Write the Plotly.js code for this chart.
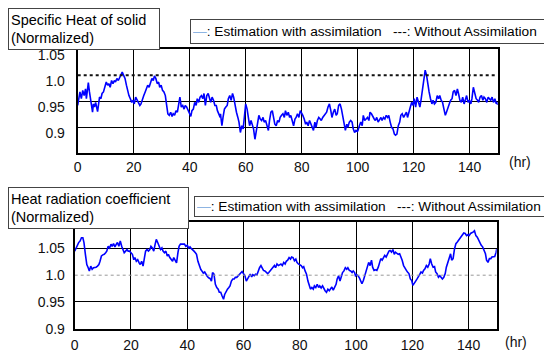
<!DOCTYPE html>
<html><head><meta charset="utf-8">
<script src="https://cdn.plot.ly/plotly-3.0.1.min.js"></script>
<style>html,body{margin:0;padding:0;background:#fff}#chart{width:544px;height:352px}</style>
</head><body><div id="chart"></div>
<script>
// ---- data (hours, normalized values) ----
const hoursSolid = [
0,0.5,0.8,1.3,1.8,2.3,2.8,3.1,3.5,3.8,4.2,4.6,4.9,5.3,5.6,6.0,6.4,6.7,7.1,7.4,
7.8,8.3,8.7,9.2,9.7,10.2,10.7,11.1,11.6,12.1,12.6,13.1,13.5,14.0,14.5,15.0,15.5,15.9,16.4,16.9,
17.4,17.9,18.3,18.8,19.3,19.8,20.2,20.7,21.2,21.7,22.2,22.6,23.1,23.6,24.1,24.6,25.0,25.5,26.0,26.5,
27.0,27.4,27.9,28.4,28.9,29.3,29.8,30.3,30.8,31.3,31.7,32.2,32.7,33.2,33.7,34.1,34.6,35.1,35.6,36.0,
36.5,37.0,37.5,38.0,38.4,38.9,39.4,39.9,40.4,40.8,41.3,41.8,42.3,42.7,43.2,43.7,44.2,44.7,45.1,45.6,
46.1,46.6,47.1,47.5,48.0,48.5,49.0,49.5,49.9,50.4,50.9,
51.0,51.5,51.9,52.4,52.9,53.4,53.8,54.3,54.8,55.3,55.7,56.2,56.7,57.2,57.6,58.1,58.6,59.1,59.5,60.0,
60.5,60.9,61.4,61.9,62.4,62.8,63.3,63.8,64.3,64.7,65.2,65.7,66.2,66.6,67.1,67.6,68.1,68.5,69.0,69.5,
70.0,70.4,70.9,71.4,71.9,72.3,72.8,73.3,73.8,74.2,74.7,75.2,75.7,76.1,76.6,77.1,77.6,78.0,78.5,79.0,
79.5,79.9,80.4,80.9,81.4,81.8,82.3,82.8,83.3,83.7,84.2,84.7,85.1,85.6,86.1,86.6,87.0,87.5,88.0,88.5,
88.9,89.4,89.9,90.4,90.8,91.3,91.8,92.3,92.7,93.2,93.7,94.2,94.6,95.1,95.6,96.1,96.5,97.0,97.5,98.0,
98.4,98.9,99.4,99.9,
100.1,100.6,101.1,101.6,102.0,102.5,103.0,103.5,104.0,104.4,104.9,105.4,105.9,106.3,106.8,107.3,107.8,108.3,108.7,109.2,
109.7,110.2,110.7,111.1,111.6,112.1,112.6,113.1,113.5,114.0,114.5,115.0,115.4,115.9,116.4,116.9,117.4,117.8,118.3,118.8,
119.3,119.8,120.2,120.7,121.2,121.7,122.2,122.6,123.1,123.6,124.1,124.6,125.0,125.5,126.0,126.5,126.9,127.4,127.9,128.4,
128.9,129.3,129.8,130.3,130.8,131.3,131.7,132.2,132.7,133.2,133.7,134.1,134.6,135.1,135.6,136.0,136.5,137.0,137.5,138.0,
138.4,138.9,139.4,139.9,140.4,140.8,141.3,141.8,142.3,142.8,143.2,143.7,144.2,144.7,145.1,145.6,146.1,146.6,147.1,147.5,
148.0,148.5,149.0,149.5,149.9,150.0];
const valuesSolid = [
0.942,0.961,0.968,0.955,0.971,0.961,0.974,0.955,0.977,0.986,0.968,0.952,0.945,0.929,0.945,0.939,0.948,0.942,0.930,0.942,
0.958,0.955,0.965,0.968,0.977,0.987,0.981,0.984,0.977,0.990,0.984,0.990,0.987,0.994,0.990,0.997,1.003,1.006,1.000,0.994,
0.981,0.968,0.961,0.955,0.948,0.952,0.945,0.958,0.952,0.948,0.942,0.945,0.955,0.961,0.968,0.974,0.981,0.977,0.987,0.994,
0.990,0.999,0.994,0.984,0.987,0.977,0.981,0.971,0.968,0.961,0.945,0.926,0.923,0.929,0.921,0.926,0.923,0.932,0.929,0.942,
0.958,0.939,0.942,0.935,0.942,0.939,0.932,0.929,0.921,0.932,0.935,0.948,0.942,0.955,0.948,0.958,0.961,0.955,0.965,0.942,
0.961,0.965,0.952,0.948,0.958,0.952,0.942,0.942,0.932,0.926,0.919,
0.926,0.903,0.919,0.935,0.939,0.942,0.955,0.961,0.952,0.965,0.958,0.939,0.929,0.919,0.910,0.890,0.903,0.897,0.916,0.945,
0.935,0.923,0.903,0.913,0.906,0.897,0.877,0.897,0.910,0.923,0.916,0.913,0.919,0.910,0.913,0.903,0.894,0.913,0.929,0.932,
0.919,0.906,0.903,0.913,0.910,0.919,0.923,0.926,0.919,0.932,0.923,0.929,0.919,0.923,0.913,0.903,0.916,0.919,0.926,0.919,
0.932,0.929,0.923,0.916,0.906,0.910,0.903,0.913,0.906,0.900,0.894,0.910,0.900,0.913,0.919,0.916,0.913,0.919,0.923,0.926,
0.929,0.939,0.945,0.932,0.919,0.929,0.935,0.923,0.926,0.942,0.945,0.935,0.923,0.903,0.894,0.906,0.900,0.910,0.913,0.910,
0.897,0.890,0.894,0.892,
0.894,0.903,0.910,0.903,0.923,0.913,0.916,0.919,0.913,0.929,0.926,0.919,0.916,0.913,0.919,0.910,0.916,0.919,0.913,0.919,
0.916,0.923,0.919,0.923,0.910,0.900,0.897,0.887,0.885,0.887,0.903,0.910,0.923,0.926,0.919,0.923,0.929,0.919,0.932,0.939,
0.948,0.942,0.955,0.939,0.958,0.945,0.939,0.952,0.974,0.987,1.010,1.000,0.984,0.968,0.955,0.945,0.952,0.945,0.948,0.961,
0.955,0.961,0.952,0.948,0.935,0.923,0.929,0.939,0.945,0.952,0.955,0.968,0.971,0.961,0.974,0.965,0.952,0.948,0.958,0.945,
0.955,0.961,0.948,0.952,0.945,0.955,0.977,0.965,0.955,0.952,0.948,0.958,0.961,0.952,0.958,0.955,0.948,0.958,0.955,0.952,
0.958,0.948,0.955,0.945,0.948,0.943];

const hoursRad = [
0.0,0.5,1.0,1.4,1.9,2.4,2.9,3.3,3.8,4.3,4.8,5.2,5.7,6.2,6.7,7.1,7.6,8.1,8.6,9.0,
9.5,10.0,10.5,11.0,11.4,11.9,12.4,12.9,13.3,13.8,14.3,14.8,15.2,15.7,16.2,16.7,17.1,17.6,18.1,18.6,
19.0,19.5,20.0,20.5,21.0,21.4,21.9,22.4,22.9,23.3,23.8,24.3,24.8,25.2,25.7,26.2,26.7,27.1,27.6,28.1,
28.6,29.0,29.5,30.0,30.5,31.0,31.4,31.9,32.4,32.9,33.3,33.8,34.3,34.8,35.2,35.7,36.2,36.7,37.1,37.6,
38.1,38.6,39.0,39.5,40.0,40.5,41.0,41.4,41.9,42.4,42.9,43.3,43.8,44.3,44.8,45.2,45.7,46.2,46.7,47.1,
47.6,48.1,48.6,
49.0,49.5,50.0,50.5,51.0,51.4,51.9,52.4,52.9,53.3,53.8,54.3,54.8,55.2,55.7,56.2,56.7,57.1,57.6,58.1,
58.6,59.0,59.5,60.0,60.5,61.0,61.4,61.9,62.4,62.9,63.3,63.8,64.3,64.8,65.2,65.7,66.2,66.7,67.1,67.6,
68.1,68.6,69.0,69.5,70.0,70.5,71.0,71.4,71.9,72.4,72.9,73.3,73.8,74.3,74.8,75.2,75.7,76.2,76.7,77.1,
77.6,78.1,78.6,79.0,79.5,80.0,80.5,81.0,81.4,81.9,82.4,82.9,83.3,83.8,84.3,84.8,85.2,85.7,86.2,86.7,
87.1,87.6,88.1,88.6,89.0,89.5,90.0,90.5,91.0,91.4,91.9,92.4,92.9,93.3,93.8,94.3,94.8,95.2,95.7,96.2,
96.7,97.1,97.6,98.1,98.6,99.0,99.5,
99.8,100.2,100.7,101.2,101.7,102.1,102.6,103.1,103.6,104.0,104.5,105.0,105.5,105.9,106.4,106.9,107.4,107.9,108.3,108.8,
109.3,109.8,110.2,110.7,111.2,111.7,112.1,112.6,113.1,113.6,114.0,114.5,115.0,115.5,116.0,116.4,116.9,117.4,117.9,118.3,
118.8,119.3,119.8,120.2,120.7,121.2,121.7,122.1,122.6,123.1,123.6,124.0,124.5,125.0,125.5,126.0,126.4,126.9,127.4,127.9,
128.3,128.8,129.3,129.8,130.2,130.7,131.2,131.7,132.1,132.6,133.1,133.6,134.0,134.5,135.0,135.5,136.0,136.4,136.9,137.4,
137.9,138.3,138.8,139.3,139.8,140.2,140.7,141.2,141.7,142.1,142.6,143.1,143.6,144.0,144.5,145.0,145.5,146.0,146.4,146.9,
147.4,147.9,148.3,148.8,149.3,149.8,150.0];
const valuesRad = [
1.045,1.051,1.058,1.061,1.064,1.070,1.070,1.061,1.039,1.020,1.014,1.008,1.017,1.011,1.014,1.014,1.015,1.017,1.020,1.026,
1.036,1.038,1.039,1.042,1.045,1.054,1.051,1.058,1.054,1.059,1.053,1.058,1.061,1.054,1.064,1.054,1.048,1.042,1.045,1.048,
1.045,1.045,1.042,1.039,1.029,1.033,1.026,1.029,1.023,1.020,1.026,1.017,1.033,1.045,1.048,1.045,1.048,1.054,1.051,1.045,
1.058,1.067,1.061,1.054,1.048,1.051,1.045,1.042,1.045,1.036,1.039,1.033,1.029,1.026,1.033,1.026,1.023,1.042,1.054,1.058,
1.058,1.059,1.058,1.054,1.056,1.051,1.053,1.050,1.048,1.045,1.042,1.039,1.026,1.017,1.011,1.008,1.004,1.006,1.001,0.998,
0.995,0.994,0.989,
1.005,1.002,0.983,0.977,0.974,0.968,0.968,0.961,0.955,0.964,0.971,0.974,0.977,0.980,0.989,0.993,0.993,0.996,0.996,0.999,
1.002,1.005,1.007,1.003,0.999,0.989,0.993,0.999,1.002,0.997,1.001,0.999,1.002,1.001,1.008,1.014,1.018,1.014,1.009,1.008,
1.005,1.003,1.005,1.008,1.011,1.014,1.018,1.014,1.021,1.018,1.019,1.021,1.018,1.024,1.021,1.026,1.028,1.033,1.030,1.034,
1.033,1.027,1.030,1.024,1.021,1.019,1.018,1.014,1.016,1.008,1.002,0.989,0.980,0.974,0.977,0.974,0.980,0.977,0.983,0.977,
0.980,0.976,0.980,0.974,0.971,0.968,0.974,0.971,0.976,0.978,0.972,0.977,0.983,0.993,0.999,0.989,0.999,1.005,1.008,1.014,
1.011,1.014,1.009,1.008,1.005,1.008,1.005,
0.999,1.001,0.999,0.995,0.990,0.984,0.990,0.999,1.006,1.012,1.024,1.018,1.028,1.015,1.009,1.010,1.009,1.015,1.024,1.031,
1.028,1.034,1.037,1.034,1.040,1.045,1.046,1.043,1.048,1.039,1.043,1.041,1.039,1.040,1.034,1.028,1.018,1.012,1.009,1.006,
1.003,0.993,0.990,0.981,0.984,0.989,0.993,0.996,1.001,1.006,1.004,1.009,1.012,1.018,1.015,1.021,1.031,1.021,1.015,1.016,
1.006,1.003,0.996,0.999,0.996,0.993,0.996,1.003,1.015,1.024,1.034,1.040,1.028,1.031,1.049,1.059,1.062,1.065,1.068,1.071,
1.074,1.079,1.078,1.074,1.076,1.074,1.078,1.079,1.081,1.083,1.074,1.071,1.065,1.062,1.056,1.053,1.046,1.040,1.028,1.024,
1.031,1.031,1.034,1.034,1.035,1.043,1.049];

const baselineHours = [0, 150];
const baselineValues = [1.0, 1.0];

const xTickVals = [0, 20, 40, 60, 80, 100, 120, 140];
const yTickVals = [0.9, 0.95, 1.0, 1.05];
const yTickText = ['0.9', '0.95', '1.0', '1.05'];
const gridSolid = [0.9, 0.95];
const gridRad = [0.95, 1.05];

const FONT = 'Liberation Sans, Arial, sans-serif';
const W = 544, H = 352;

const traces = [
  {x: hoursSolid, y: valuesSolid, xaxis: 'x', yaxis: 'y', mode: 'lines',
   line: {color: '#0000ff', width: 1.6}, name: 'Estimation with assimilation'},
  {x: baselineHours, y: baselineValues, xaxis: 'x', yaxis: 'y3', mode: 'lines',
   line: {color: '#111', width: 2, dash: 'dot'}, name: 'Without Assimilation'},
  {x: hoursRad, y: valuesRad, xaxis: 'x2', yaxis: 'y2', mode: 'lines',
   line: {color: '#0000ff', width: 1.6}, name: 'Estimation with assimilation'},
  {x: baselineHours, y: baselineValues, xaxis: 'x2', yaxis: 'y4', mode: 'lines',
   line: {color: '#999', width: 1, dash: 'dot'}, name: 'Without Assimilation'}
];

const xBase = {range: [0, 150], tickvals: xTickVals, showgrid: true, gridcolor: '#000', gridwidth: 1,
  showline: true, linecolor: '#000', linewidth: 2, mirror: true, zeroline: false, ticks: '',
  tickfont: {size: 14, color: '#111'}, fixedrange: true};
const yBase = {tickvals: yTickVals, ticktext: yTickText, showgrid: false, showline: true,
  linecolor: '#000', linewidth: 2, mirror: true, zeroline: false, ticks: '',
  tickfont: {size: 14, color: '#111'}, fixedrange: true};
const gBase = {showgrid: true, gridcolor: '#000', gridwidth: 1, showticklabels: false,
  showline: false, zeroline: false, ticks: '', fixedrange: true};

const legendText = '<span style="color:#8db4e2">\u2014</span>: Estimation with assimilation&nbsp;&nbsp;&nbsp;---: Without Assimilation';

function box(text, x0, y0, w, h, size) {
  return {text: text, xref: 'paper', yref: 'paper', x: x0 / W, y: 1 - y0 / H,
    xanchor: 'left', yanchor: 'top', showarrow: false, align: 'left', valign: 'middle',
    bordercolor: '#444', borderwidth: 1, borderpad: 2, bgcolor: '#fff',
    width: w, height: h, font: {size: size, color: '#000'}};
}

const layout = {
  width: W, height: H, margin: {l: 0, r: 0, t: 0, b: 0},
  paper_bgcolor: '#fff', plot_bgcolor: '#fff', showlegend: false,
  font: {family: FONT, size: 14, color: '#000'},
  xaxis: Object.assign({}, xBase, {domain: [77.7 / W, 497.7 / W], anchor: 'y'}),
  yaxis: Object.assign({}, yBase, {domain: [1 - 153.3 / H, 1 - 49.3 / H], range: [0.85, 1.05], anchor: 'x',
    ticklabelshift: 6, ticklabelstandoff: 8}),
  yaxis3: Object.assign({}, gBase, {overlaying: 'y', anchor: 'x', range: [0.85, 1.05], tickvals: gridSolid}),
  xaxis2: Object.assign({}, xBase, {domain: [74.7 / W, 496.7 / W], anchor: 'y2', ticklabelstandoff: 2}),
  yaxis2: Object.assign({}, yBase, {domain: [1 - 328.7 / H, 1 - 221.7 / H], range: [0.9, 1.1], anchor: 'x2',
    ticklabelstandoff: 5}),
  yaxis4: Object.assign({}, gBase, {overlaying: 'y2', anchor: 'x2', range: [0.9, 1.1], tickvals: gridRad}),
  annotations: [
    box('Specific Heat of solid<br>(Normalized)', 8, 8, 146, 36, 14.5),
    box(legendText, 190, 19, 400, 19, 13.7),
    box('Heat radiation coefficient<br>(Normalized)', 8, 187, 175, 36, 14.5),
    box(legendText, 194, 196, 400, 15, 13.7),
    {text: '(hr)', xref: 'paper', yref: 'paper', x: 520 / W, y: 1 - 162 / H, showarrow: false,
     xanchor: 'center', yanchor: 'middle', font: {size: 14, color: '#111'}},
    {text: '(hr)', xref: 'paper', yref: 'paper', x: 516 / W, y: 1 - 342 / H, showarrow: false,
     xanchor: 'center', yanchor: 'middle', font: {size: 14, color: '#111'}}
  ]
};

Plotly.newPlot('chart', traces, layout, {staticPlot: true, displayModeBar: false});
</script></body></html>
